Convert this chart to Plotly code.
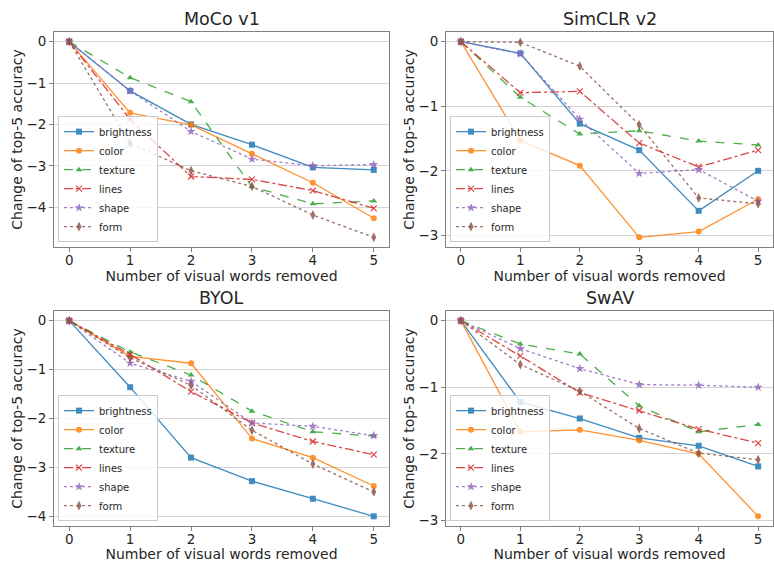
import plotly.graph_objects as go

x_vals = [0, 1, 2, 3, 4, 5]
series_names = ["brightness", "color", "texture", "lines", "shape", "form"]

moco_brightness = [0, -1.19, -2.00, -2.49, -3.04, -3.10]
moco_color = [0, -1.72, -2.01, -2.71, -3.41, -4.27]
moco_texture = [0, -0.87, -1.45, -3.51, -3.92, -3.85]
moco_lines = [0, -1.88, -3.26, -3.33, -3.60, -4.03]
moco_shape = [0, -1.19, -2.17, -2.84, -3.00, -2.97]
moco_form = [0, -2.46, -3.12, -3.50, -4.19, -4.73]

simclr_brightness = [0, -0.18, -1.27, -1.68, -2.62, -2.00]
simclr_color = [0, -1.53, -1.92, -3.03, -2.94, -2.44]
simclr_texture = [0, -0.86, -1.43, -1.38, -1.54, -1.60]
simclr_lines = [0, -0.79, -0.77, -1.57, -1.94, -1.68]
simclr_shape = [0, -0.19, -1.20, -2.04, -1.98, -2.47]
simclr_form = [0, -0.01, -0.38, -1.29, -2.42, -2.51]

byol_brightness = [0, -1.36, -2.80, -3.28, -3.64, -4.00]
byol_color = [0, -0.73, -0.87, -2.41, -2.80, -3.38]
byol_texture = [0, -0.64, -1.11, -1.85, -2.27, -2.36]
byol_lines = [0, -0.69, -1.45, -2.09, -2.47, -2.74]
byol_shape = [0, -0.87, -1.24, -2.09, -2.16, -2.35]
byol_form = [0, -0.76, -1.32, -2.24, -2.93, -3.50]

swav_brightness = [0, -1.22, -1.47, -1.76, -1.88, -2.19]
swav_color = [0, -1.67, -1.64, -1.80, -2.00, -2.94]
swav_texture = [0, -0.35, -0.50, -1.28, -1.67, -1.56]
swav_lines = [0, -0.53, -1.08, -1.35, -1.63, -1.84]
swav_shape = [0, -0.42, -0.72, -0.96, -0.97, -1.00]
swav_form = [0, -0.66, -1.06, -1.62, -1.99, -2.09]

panel_titles = ["MoCo v1", "SimCLR v2", "BYOL", "SwAV"]
panels = [
    [moco_brightness, moco_color, moco_texture, moco_lines, moco_shape, moco_form],
    [simclr_brightness, simclr_color, simclr_texture, simclr_lines, simclr_shape, simclr_form],
    [byol_brightness, byol_color, byol_texture, byol_lines, byol_shape, byol_form],
    [swav_brightness, swav_color, swav_texture, swav_lines, swav_shape, swav_form],
]

colors = ["#1f77b4", "#ff7f0e", "#2ca02c", "#d62728", "#9467bd", "#8c564b"]
dashes = ["solid", "solid", "dash", "dashdot", "dot", "dot"]
symbols = ["square", "circle", "triangle-up", "x-thin", "star", "diamond-tall"]
msizes = [6, 6, 6, 6, 7, 7]

W, H = 774, 562
FONT = "DejaVu Sans"

# plot-area boxes in pixels (left, right, top, bottom)
boxes = [
    (54, 389, 32, 248),
    (446, 773, 32, 248),
    (54, 389, 312, 528),
    (446, 773, 312, 528),
]

fig = go.Figure()
layout = dict(
    width=W, height=H,
    margin=dict(l=0, r=0, t=0, b=0),
    paper_bgcolor="white", plot_bgcolor="white",
    font=dict(family=FONT, color="#262626"),
    annotations=[],
)

for p, (vals, title, box) in enumerate(zip(panels, panel_titles, boxes)):
    idx = "" if p == 0 else str(p + 1)
    xa, ya = "x" + idx, "y" + idx
    leg = "legend" + idx
    for s in range(6):
        fig.add_trace(go.Scatter(
            x=x_vals, y=vals[s], name=series_names[s], mode="lines+markers",
            xaxis=xa, yaxis=ya, legend=leg, opacity=0.85,
            line=dict(color=colors[s], width=1.3, dash=dashes[s]),
            marker=dict(symbol=symbols[s], size=msizes[s], color=colors[s],
                        line=dict(color=colors[s], width=1.2 if s == 3 else 0)),
        ))
    l, r, t, b = box
    dx = [l / W, r / W]
    dy = [1 - b / H, 1 - t / H]
    allv = [v for ser in vals for v in ser]
    lo, hi = min(allv), max(allv)
    pad = 0.05 * (hi - lo)
    tickvals = [v for v in range(0, -10, -1) if v >= lo - pad]
    axis_common = dict(
        showline=True, linecolor="#808080", linewidth=1, mirror=True,
        ticks="outside", tickcolor="#808080", ticklen=4, tickwidth=1,
        tickfont=dict(size=13.5, family=FONT, color="#262626"), zeroline=False,
    )
    layout["xaxis" + idx] = dict(
        domain=dx, anchor=ya, range=[-0.25, 5.25], tickvals=x_vals,
        showgrid=False, ticklabelstandoff=-3,
        title=dict(text="Number of visual words removed", standoff=0,
                   font=dict(size=14, family=FONT, color="#262626")),
        **axis_common,
    )
    layout["yaxis" + idx] = dict(
        domain=dy, anchor=xa, range=[lo - pad, hi + pad], tickvals=tickvals,
        showgrid=True, gridcolor="#d4d4d4", gridwidth=1,
        title=dict(text="Change of top-5 accuracy", standoff=0,
                   font=dict(size=14, family=FONT, color="#262626")),
        **axis_common,
    )
    layout[leg] = dict(
        x=(l + 4) / W, y=1 - (b - 5) / H, xanchor="left", yanchor="bottom",
        xref="paper", yref="paper",
        bgcolor="rgba(255,255,255,0.8)", bordercolor="#cccccc", borderwidth=1,
        font=dict(size=10, family=FONT, color="#262626"),
        tracegroupgap=0, itemwidth=30,
    )
    layout["annotations"].append(dict(
        text=title, x=(l + r) / 2 / W, y=1 - (t - 1) / H, xref="paper", yref="paper",
        xanchor="center", yanchor="bottom", showarrow=False,
        font=dict(size=17.5, family=FONT, color="#262626"),
    ))

fig.update_layout(**layout)
fig.write_html(
    "out.html",
    config={"displayModeBar": False},
    post_script="document.body.style.margin='0px';document.body.style.overflow='hidden';",
)
